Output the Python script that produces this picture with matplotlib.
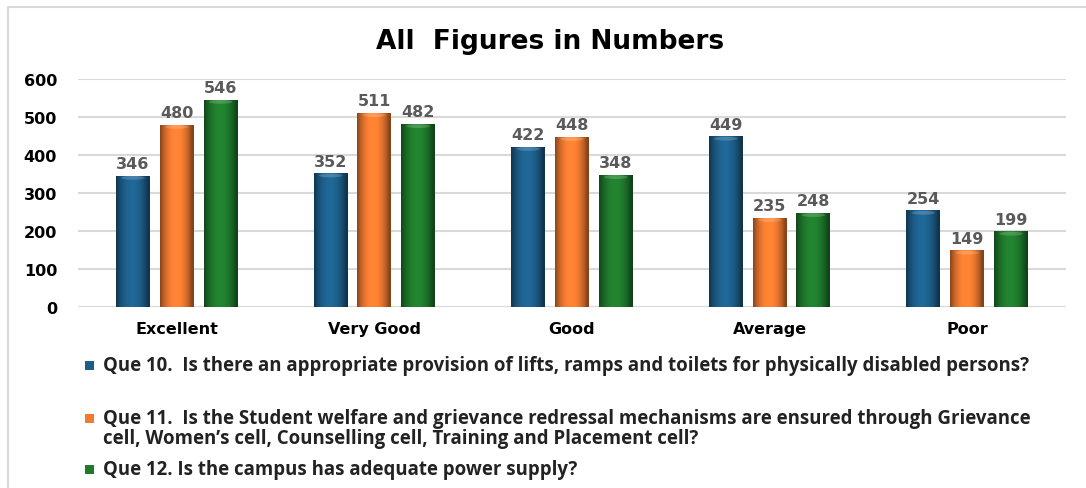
import numpy as np
import matplotlib
matplotlib.use('Agg')
import matplotlib.pyplot as plt
from matplotlib.colors import to_rgb
from matplotlib.patches import Rectangle, Ellipse

categories = ['Excellent', 'Very Good', 'Good', 'Average', 'Poor']
que10 = [346, 352, 422, 449, 254]
que11 = [480, 511, 448, 235, 149]
que12 = [546, 482, 348, 248, 199]
series = [que10, que11, que12]
legend_labels = [
    'Que 10.  Is there an appropriate provision of lifts, ramps and toilets for physically disabled persons?',
    'Que 11.  Is the Student welfare and grievance redressal mechanisms are ensured through Grievance\n'
    'cell, Women\u2019s cell, Counselling cell, Training and Placement cell?',
    'Que 12. Is the campus has adequate power supply?',
]
colors = ['#1d5f8a', '#f07a30', '#1f7a2c']
title = 'All  Figures in Numbers'

W, H = 1086, 489
fig = plt.figure(figsize=(W / 100, H / 100), dpi=100)
fig.patch.set_facecolor('white')

# light frame round the chart
fig.add_artist(Rectangle((8 / W, -0.05), 1.1, 1 - 8 / H + 0.05, transform=fig.transFigure,
                         fill=False, edgecolor='#d9d9d9', linewidth=1.5))

ax = fig.add_axes([78 / W, 1 - 308 / H, (1066 - 78) / W, (308 - 80) / H])
x = np.arange(len(categories))
bw = 0.172
step = 0.222


def shade(c, t):
    # cylinder-like shading across the bar width
    base = np.array(to_rgb(c))
    prof = 0.55 + 0.55 * np.sin(np.pi * np.clip(t * 1.05, 0, 1)) ** 0.8
    out = np.clip(base[None, :] * prof[:, None], 0, 1)
    return out


for i, (vals, c) in enumerate(zip(series, colors)):
    pos = x + (i - 1) * step
    bars = ax.bar(pos, vals, width=bw, color=c, zorder=3, linewidth=0)
    for b, v in zip(bars, vals):
        t = np.linspace(0, 1, 64)
        img = shade(c, t)[None, :, :]
        im = ax.imshow(img, extent=[b.get_x(), b.get_x() + bw, 0, v], aspect='auto',
                       zorder=4, interpolation='bicubic')
        im.set_clip_path(b)
        cap = Ellipse((b.get_x() + bw / 2, v - 6), bw * 0.7, 10,
                      facecolor='white', alpha=0.18, linewidth=0, zorder=5)
        ax.add_patch(cap)
        ax.text(b.get_x() + bw / 2, v + 12, str(v), ha='center', va='bottom',
                fontsize=11.5, fontweight='bold', color='#5a5a5a', zorder=6)

ax.set_xlim(-0.5, len(categories) - 0.5)
ax.set_ylim(0, 600)
ax.set_yticks(range(0, 601, 100))
ax.grid(axis='y', color='#d9d9d9', linewidth=1.5, zorder=0)
ax.set_axisbelow(True)
for s in ax.spines.values():
    s.set_visible(False)
ax.tick_params(axis='both', length=0)
ax.tick_params(axis='y', pad=15, labelsize=11.5)
ax.tick_params(axis='x', pad=10, labelsize=11.5)
ax.set_xticks(x)
ax.set_xticklabels(categories, fontweight='bold')
for lab in ax.get_yticklabels():
    lab.set_fontweight('bold')

fig.text(550 / W, 1 - 42 / H, title, ha='center', va='center',
         fontsize=19, fontweight='bold', color='black')

# legend drawn below the plot (text centre, marker centre in pixels from top)
leg_y = [366, 429, 470]
mark_y = [366, 419, 470]
for lab, c, yy, my in zip(legend_labels, colors, leg_y, mark_y):
    sq = 9
    fig.add_artist(Rectangle((85 / W, 1 - (my + sq / 2) / H), sq / W, sq / H,
                             transform=fig.transFigure, facecolor=c, edgecolor='none'))
    fig.text(103 / W, 1 - yy / H, lab, ha='left', va='center', family='Open Sans',
             fontweight='bold', fontsize=13.4, color='#222222', linespacing=1.05)

fig.savefig('out.png', dpi=100, facecolor='white')
